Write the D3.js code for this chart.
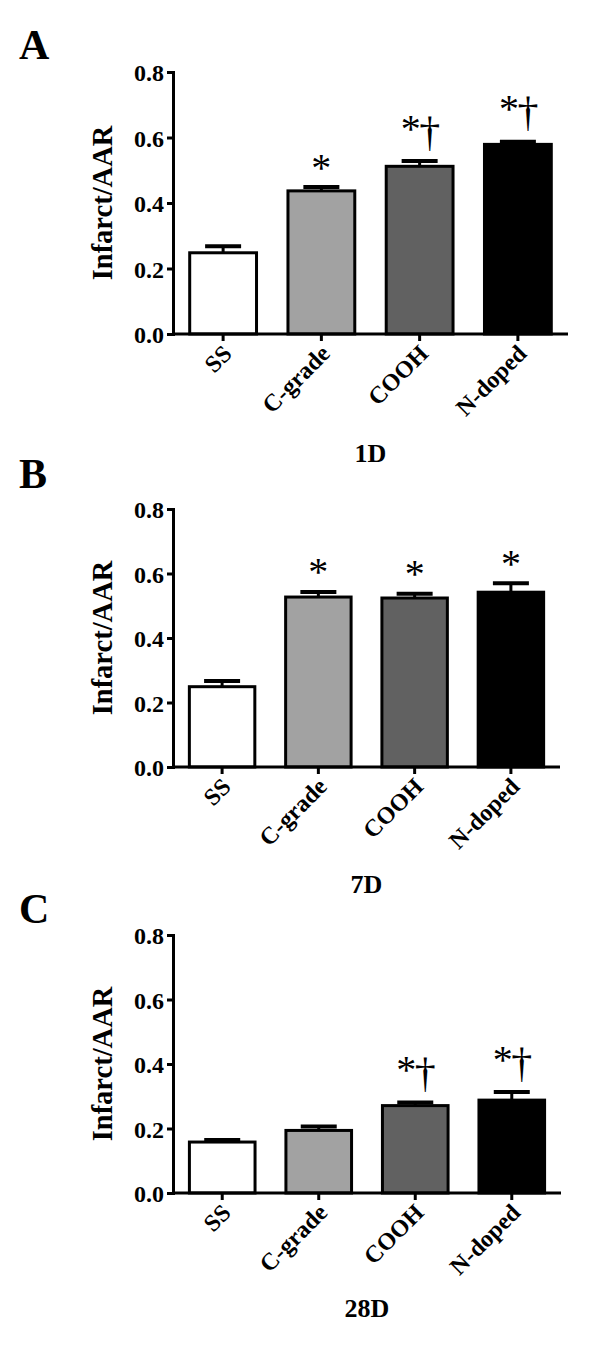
<!DOCTYPE html>
<html>
<head>
<meta charset="utf-8">
<script src="https://cdn.jsdelivr.net/npm/d3@7"></script>
<style>
  html, body { margin: 0; padding: 0; background: #fff; }
  svg { display: block; }
  text { font-family: "Liberation Serif", "Times New Roman", serif; }
</style>
</head>
<body>
<svg id="chart" width="600" height="1361"></svg>
<script>
// ---------- data ----------
const categories = ["SS", "C-grade", "COOH", "N-doped"];
const barColors = ["#ffffff", "#a2a2a2", "#616161", "#000000"];
const yTicks = [0.0, 0.2, 0.4, 0.6, 0.8];
const yLabel = "Infarct/AAR";

const panelLetters = ["A", "B", "C"];
const panelTitles = ["1D", "7D", "28D"];

const means1D = [0.248, 0.437, 0.512, 0.579];
const errs1D  = [0.020, 0.012, 0.016, 0.008];
const marks1D = ["", "*", "*†", "*†"];

const means7D = [0.249, 0.527, 0.524, 0.542];
const errs7D  = [0.018, 0.016, 0.013, 0.028];
const marks7D = ["", "*", "*", "*"];

const means28D = [0.158, 0.194, 0.271, 0.288];
const errs28D  = [0.006, 0.012, 0.010, 0.025];
const marks28D = ["", "", "*†", "*†"];

// ---------- layout (not data) ----------
const layouts = [
  { top: 72,  bottom: 334,  x0: 173, x1: 568, letterY: 59,  titleY: 462 },
  { top: 509, bottom: 767,  x0: 173, x1: 560, letterY: 488, titleY: 893 },
  { top: 935, bottom: 1193, x0: 173, x1: 561, letterY: 923, titleY: 1317 }
];
const panelData = [
  { means: means1D, errs: errs1D, marks: marks1D },
  { means: means7D, errs: errs7D, marks: marks7D },
  { means: means28D, errs: errs28D, marks: marks28D }
];

const svg = d3.select("#chart");

panelData.forEach((pd, pi) => {
  const L = layouts[pi];
  const g = svg.append("g");

  const y = d3.scaleLinear().domain([0, 0.8]).range([L.bottom, L.top]);
  const x = d3.scaleBand().domain(categories).range([L.x0, L.x1])
    .paddingInner(0.32).paddingOuter(0.17);
  const bw = x.bandwidth();

  const rows = categories.map((c, i) => ({
    cat: c, v: pd.means[i], e: pd.errs[i], mark: pd.marks[i], fill: barColors[i]
  }));

  // error bars
  rows.forEach(r => {
    const cx = x(r.cat) + bw / 2;
    g.append("line")
      .attr("x1", cx).attr("x2", cx)
      .attr("y1", y(r.v)).attr("y2", y(r.v + r.e))
      .attr("stroke", "#000").attr("stroke-width", 3);
    g.append("line")
      .attr("x1", cx - 18).attr("x2", cx + 18)
      .attr("y1", y(r.v + r.e)).attr("y2", y(r.v + r.e))
      .attr("stroke", "#000").attr("stroke-width", 4);
  });

  // bars
  g.selectAll("rect.bar").data(rows).enter().append("rect")
    .attr("class", "bar")
    .attr("x", d => x(d.cat))
    .attr("y", d => y(d.v))
    .attr("width", bw)
    .attr("height", d => y(0) - y(d.v))
    .attr("fill", d => d.fill)
    .attr("stroke", "#000")
    .attr("stroke-width", 3);

  // significance marks
  const F = 40, FD = 42;
  rows.forEach(r => {
    if (!r.mark) return;
    const cx = x(r.cat) + bw / 2;
    const capY = y(r.v + r.e);
    if (r.mark === "*") {
      const sc = capY - 26;
      g.append("text").text("*")
        .attr("x", cx).attr("y", sc + 0.49 * F)
        .attr("text-anchor", "middle")
        .attr("font-size", F);
    } else {
      const sc = capY - 39;
      g.append("text").text("*")
        .attr("x", cx - 9).attr("y", sc + 0.49 * F)
        .attr("text-anchor", "middle")
        .attr("font-size", F);
      g.append("text").text("†")
        .attr("x", cx + 10).attr("y", capY - 7 - 0.2 * FD)
        .attr("text-anchor", "middle")
        .attr("font-size", FD);
    }
  });

  // y axis
  const yAxis = d3.axisLeft(y).tickValues(yTicks)
    .tickFormat(d3.format(".1f")).tickSize(6).tickSizeOuter(0).tickPadding(3);
  const ya = g.append("g").attr("transform", `translate(${L.x0},0)`).call(yAxis);
  ya.select(".domain").attr("stroke-width", 3).attr("stroke-linecap", "square");
  ya.selectAll(".tick line").attr("stroke-width", 3);
  ya.selectAll(".tick text")
    .attr("font-weight", "bold").attr("font-size", 24).attr("fill", "#000")
    .attr("dy", "0.36em");

  // x axis
  const xAxis = d3.axisBottom(x).tickSize(7).tickSizeOuter(0);
  const xa = g.append("g").attr("transform", `translate(0,${L.bottom})`).call(xAxis);
  xa.select(".domain").attr("stroke-width", 3)
    .attr("d", `M${L.x0},0H${L.x1}`);
  xa.selectAll(".tick line").attr("stroke-width", 3);
  xa.selectAll(".tick text")
    .attr("font-weight", "bold").attr("font-size", 24).attr("fill", "#000")
    .attr("x", 0).attr("y", 0).attr("dy", 0)
    .attr("text-anchor", "end")
    .attr("transform", "translate(10,21) rotate(-45)");

  // y label
  g.append("text").text(yLabel)
    .attr("transform", `translate(112,${(L.top + L.bottom) / 2}) rotate(-90)`)
    .attr("text-anchor", "middle")
    .attr("font-weight", "bold").attr("font-size", 28.5);

  // x title
  g.append("text").text(panelTitles[pi])
    .attr("x", (L.x0 + L.x1) / 2).attr("y", L.titleY)
    .attr("text-anchor", "middle")
    .attr("font-weight", "bold").attr("font-size", 26);

  // panel letter
  g.append("text").text(panelLetters[pi])
    .attr("x", 19).attr("y", L.letterY)
    .attr("font-weight", "bold").attr("font-size", 42);
});
</script>
</body>
</html>
